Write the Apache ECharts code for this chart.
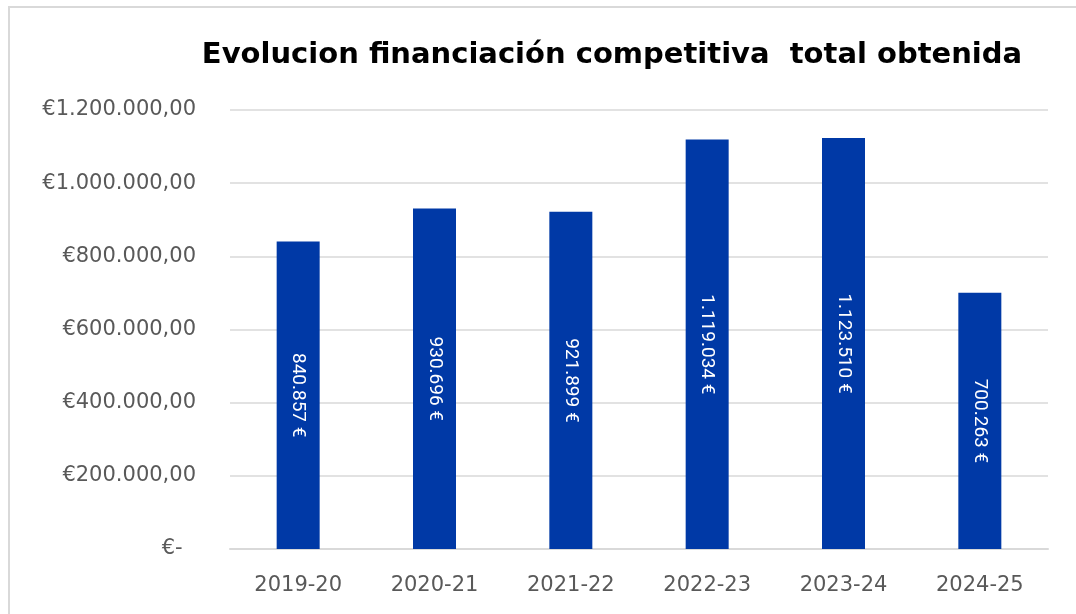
<!DOCTYPE html>
<html>
<head>
<meta charset="utf-8">
<script src="https://cdn.jsdelivr.net/npm/echarts@6/dist/echarts.min.js"></script>
<style>
html, body { margin: 0; padding: 0; background: #fff; }
#main { width: 1076px; height: 614px; }
</style>
</head>
<body>
<div id="main"></div>
<script>
var categories = ['2019-20', '2020-21', '2021-22', '2022-23', '2023-24', '2024-25'];
var totals = [840857, 930696, 921899, 1119034, 1123510, 700263];
var yTicks = [0, 200000, 400000, 600000, 800000, 1000000, 1200000];

function fmtThousands(v) {
    return String(Math.round(v)).replace(/\B(?=(\d{3})+(?!\d))/g, '.');
}

var dom = document.getElementById('main');
var myChart = echarts.init(dom);
var option = {
    backgroundColor: '#fff',
    animation: false,
    title: {
        text: 'Evolucion financiación competitiva  total obtenida',
        left: 607,
        textAlign: 'center',
        top: 36,
        textStyle: {
            fontFamily: 'DejaVu Sans',
            fontWeight: 'bold',
            fontSize: 29,
            color: '#000'
        }
    },
    graphic: [{
        type: 'rect',
        shape: { x: 9, y: 7, width: 1200, height: 700 },
        style: { fill: 'none', stroke: '#d9d9d9', lineWidth: 2 },
        silent: true
    }],
    grid: { left: 230, right: 28, top: 110, bottom: 65 },
    xAxis: {
        type: 'category',
        data: categories,
        axisTick: { show: false },
        axisLine: { lineStyle: { color: '#d9d9d9', width: 2 } },
        axisLabel: {
            margin: 26,
            fontFamily: 'DejaVu Sans',
            fontSize: 21,
            color: '#595959'
        }
    },
    yAxis: {
        type: 'value',
        min: yTicks[0],
        max: yTicks[yTicks.length - 1],
        interval: 200000,
        axisLine: { show: false },
        axisTick: { show: false },
        splitLine: { lineStyle: { color: '#d9d9d9', width: 1.5 } },
        axisLabel: {
            margin: 34,
            fontFamily: 'DejaVu Sans',
            fontSize: 21,
            color: '#595959',
            formatter: function (v) {
                return v === 0 ? '€-  ' : '€' + fmtThousands(v) + ',00';
            }
        }
    },
    series: [{
        type: 'bar',
        data: totals,
        barWidth: 43,
        itemStyle: { color: '#0039a6' },
        label: {
            show: true,
            position: 'inside',
            rotate: -90,
            fontFamily: 'Roboto',
            fontSize: 19,
            color: '#fff',
            formatter: function (p) { return fmtThousands(p.value) + ' €'; }
        }
    }]
};
myChart.setOption(option, true);
</script>
</body>
</html>
